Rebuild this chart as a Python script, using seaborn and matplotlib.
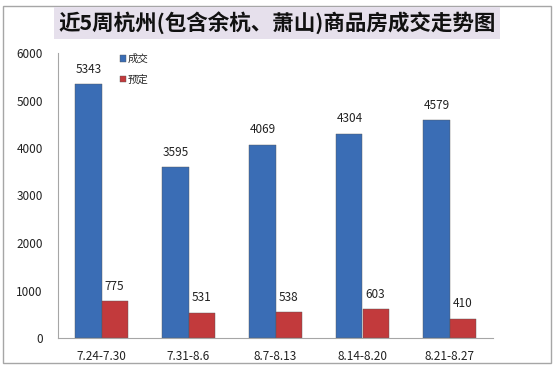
import pandas as pd
import seaborn as sns
import matplotlib.pyplot as plt
from matplotlib.patches import Rectangle

# data
weeks = ["7.24-7.30", "7.31-8.6", "8.7-8.13", "8.14-8.20", "8.21-8.27"]
deals = [5343, 3595, 4069, 4304, 4579]      # 成交
booked = [775, 531, 538, 603, 410]           # 预定
series_names = ["成交", "预定"]
y_ticks = [0, 1000, 2000, 3000, 4000, 5000, 6000]

df = pd.DataFrame({
    "week": weeks * 2,
    "value": deals + booked,
    "series": [series_names[0]] * len(weeks) + [series_names[1]] * len(weeks),
})

sns.set_theme(style="white")
plt.rcParams["font.family"] = ["Noto Sans CJK SC", "DejaVu Sans"]

fig = plt.figure(figsize=(5.54, 3.70), dpi=100)
# outer chart frame
fig.patches.append(Rectangle((0.006, 0.02), 0.988, 0.965, transform=fig.transFigure,
                             fill=False, edgecolor="#a6a6a6", linewidth=1.0))

ax = fig.add_axes([58 / 554, 1 - 338 / 370, 435 / 554, 285 / 370])
palette = {"成交": "#3a6db5", "预定": "#c23a3c"}
sns.barplot(data=df, x="week", y="value", hue="series", palette=palette,
            width=0.6, saturation=1, edgecolor="#555555", linewidth=0.3, ax=ax)

for cont in ax.containers:
    ax.bar_label(cont, padding=6, fontsize=8.5, color="#222222")

ax.set_ylim(0, 6000)
ax.set_yticks(y_ticks)
ax.set_xlabel("")
ax.set_ylabel("")
ax.tick_params(axis="both", labelsize=8.5, colors="#222222", length=0)
ax.tick_params(axis="y", pad=11)
ax.tick_params(axis="x", pad=9)
sns.despine(ax=ax, top=True, right=True)
for s in ["left", "bottom"]:
    ax.spines[s].set_color("#a6a6a6")
    ax.spines[s].set_linewidth(0.8)

leg = ax.legend(loc="upper left", bbox_to_anchor=(0.12, 1.03), frameon=False,
                fontsize=7.5, handlelength=0.6, handleheight=0.6,
                handletextpad=0.2, labelspacing=1.0)

fig.text(0.5, 0.938, "近5周杭州(包含余杭、萧山)商品房成交走势图", ha="center", va="center",
         fontsize=15.5, fontweight="bold", color="#111111",
         bbox=dict(boxstyle="square,pad=0.2", facecolor="#e6e0ec", edgecolor="none"))

fig.savefig("out.png", dpi=100)
